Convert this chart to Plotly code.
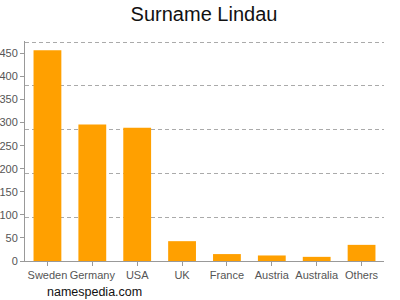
import plotly.graph_objects as go

categories = ["Sweden", "Germany", "USA", "UK", "France", "Austria", "Australia", "Others"]
values = [457, 296, 289, 43, 15, 12, 9, 35]
y_ticks = [0, 50, 100, 150, 200, 250, 300, 350, 400, 450]
y_max = 477
grid_count = 5

grid_vals = [y_max * k / grid_count for k in range(1, grid_count + 1)]
grid_vals[-1] = y_max - 3.5

fig = go.Figure()
fig.add_trace(go.Bar(x=categories, y=values, marker=dict(color="#FFA000", line=dict(width=0)),
                     hoverinfo="x+y"))

fig.update_layout(
    width=400, height=300,
    margin=dict(l=24.5, r=15.5, t=40.7, b=39, pad=0, autoexpand=False),
    paper_bgcolor="white", plot_bgcolor="white",
    showlegend=False,
    bargap=0.38,
    font=dict(family="Liberation Sans, Arial, sans-serif", color="#555555", size=11),
    title=dict(text="Surname Lindau", x=0.51, xanchor="center", y=0.955, yanchor="middle",
               font=dict(size=20, color="#111111")),
    xaxis=dict(showline=True, linecolor="#999999", linewidth=1, ticks="outside",
               ticklen=4, tickcolor="#999999", tickfont=dict(size=11, color="#555555"),
               tickangle=0, automargin=False,
               showgrid=False, zeroline=False, fixedrange=True),
    yaxis=dict(range=[0, y_max], tickvals=y_ticks, showline=True, linecolor="#999999",
               linewidth=1, ticks="outside", ticklen=4, tickcolor="#999999",
               showgrid=False, zeroline=False, tickfont=dict(size=11, color="#555555"),
               automargin=False, fixedrange=True,
               minor=dict(tickmode="array", tickvals=grid_vals, showgrid=True,
                          gridcolor="#AAAAAA", griddash="4px,3px", gridwidth=1, ticks="")),
    annotations=[dict(text="namespedia.com", xref="paper", yref="paper", x=0.057, y=-0.14,
                      xanchor="left", yanchor="middle", showarrow=False,
                      font=dict(size=12.5, color="#111111"))],
)
fig.write_html("out.html")
